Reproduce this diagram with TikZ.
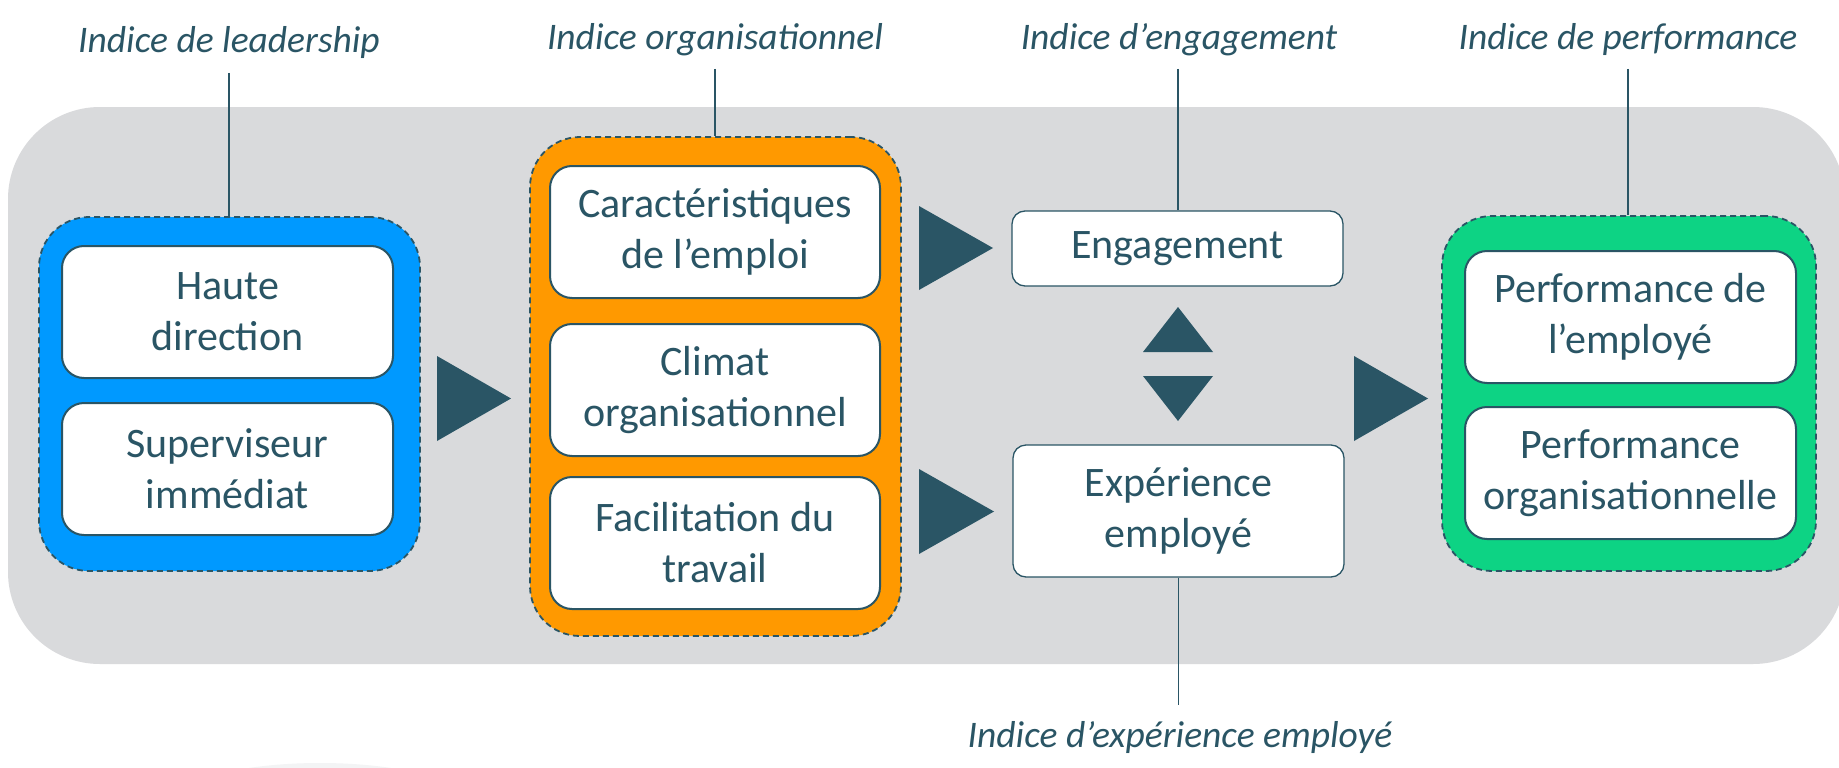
\documentclass[tikz,border=0pt]{standalone}
\usepackage{fontspec}
\setmainfont{Carlito}
\definecolor{teal}{HTML}{2A5565}
\definecolor{bggray}{HTML}{D9DADC}
\definecolor{cblue}{HTML}{0099FF}
\definecolor{corange}{HTML}{FF9900}
\definecolor{cgreen}{HTML}{0DD384}
\definecolor{faint}{HTML}{F3F4F5}
\begin{document}
\begin{tikzpicture}[x=1pt,y=-1pt,
  group/.style={draw=teal, line width=1.8pt, dash pattern=on 6pt off 4pt, rounded corners=50pt, inner sep=0pt},
  innerbox/.style={draw=teal, line width=2pt, fill=white, rounded corners=22pt, minimum width=331pt, minimum height=132pt, inner sep=0pt, align=center, text=teal, font=\fontsize{42}{51}\selectfont},
  flatbox/.style={draw=teal, line width=1.3pt, fill=white, rounded corners=13pt, minimum width=331pt, inner sep=0pt, align=center, text=teal, font=\fontsize{42}{51}\selectfont},
  lbl/.style={text=teal, inner sep=0pt, font=\fontsize{37.5}{44}\selectfont\itshape},
  lead/.style={draw=teal, line width=1.3pt},
  tri/.style={fill=teal}]
\useasboundingbox (0,0) rectangle (1839,768);
\fill[white] (0,0) rectangle (1839,768);
\fill[faint] (320,805) ellipse [x radius=150, y radius=42];
% background
\fill[bggray, rounded corners=92pt] (8,107) rectangle (1845,664);
% groups
\node[group, fill=cblue, minimum width=381pt, minimum height=354pt] (blue) at (229.5,394) {};
\node[group, fill=corange, minimum width=371pt, minimum height=499pt] (orange) at (715.5,386.5) {};
\node[group, fill=cgreen, minimum width=374pt, minimum height=355pt] (green) at (1629,393.5) {};
% inner boxes
\node[innerbox] (hd) at (227.5,312) {Haute\\direction};
\node[innerbox] (si) at (227.5,469) {Superviseur\\immédiat};
\node[innerbox, minimum width=330pt] (ce) at (715,232) {Caractéristiques\\de l’emploi};
\node[innerbox, minimum width=330pt] (co) at (715,390) {Climat\\organisationnel};
\node[innerbox, minimum width=330pt] (ft) at (715,543) {Facilitation du\\travail};
\node[innerbox] (pe) at (1630.5,317) {Performance de\\l’employé};
\node[innerbox] (po) at (1630.5,473) {Performance\\organisationnelle};
\node[flatbox, minimum height=75pt] (eng) at (1177.5,248.5) {Engagement};
\node[flatbox, minimum height=132pt] (exp) at (1178.5,511) {Expérience\\employé};
% triangles
\fill[tri] (437,356) -- (437,441) -- (511,398.5) -- cycle;
\fill[tri] (919,206) -- (919,290) -- (993,248) -- cycle;
\fill[tri] (919,469) -- (919,554) -- (994,511.5) -- cycle;
\fill[tri] (1354,356) -- (1354,441) -- (1428,398.5) -- cycle;
\fill[tri] (1178,307) -- (1213,352) -- (1143,352) -- cycle;
\fill[tri] (1143,376) -- (1213,376) -- (1178,421) -- cycle;
% labels
\node[lbl, anchor=base] (l1) at (229,53) {Indice de leadership};
\node[lbl, anchor=base] (l2) at (715,50) {Indice organisationnel};
\node[lbl, anchor=base] (l3) at (1179,50) {Indice d’engagement};
\node[lbl, anchor=base] (l4) at (1628,50) {Indice de performance};
\node[lbl, anchor=base] (l5) at (1180,747) {Indice d’expérience employé};
\coordinate (c1) at (229,73);
\coordinate (c2) at (715,69);
\coordinate (c3) at (1178,69);
\coordinate (c4) at (1628,69);
\coordinate (c5) at (1178.5,705);
\draw[lead] (c1) -- (c1 |- blue.north);
\draw[lead] (c2) -- (c2 |- orange.north);
\draw[lead] (c3) -- (c3 |- eng.north);
\draw[lead] (c4) -- (c4 |- green.north);
\draw[lead] (exp.south) -- (c5);
\end{tikzpicture}
\end{document}
